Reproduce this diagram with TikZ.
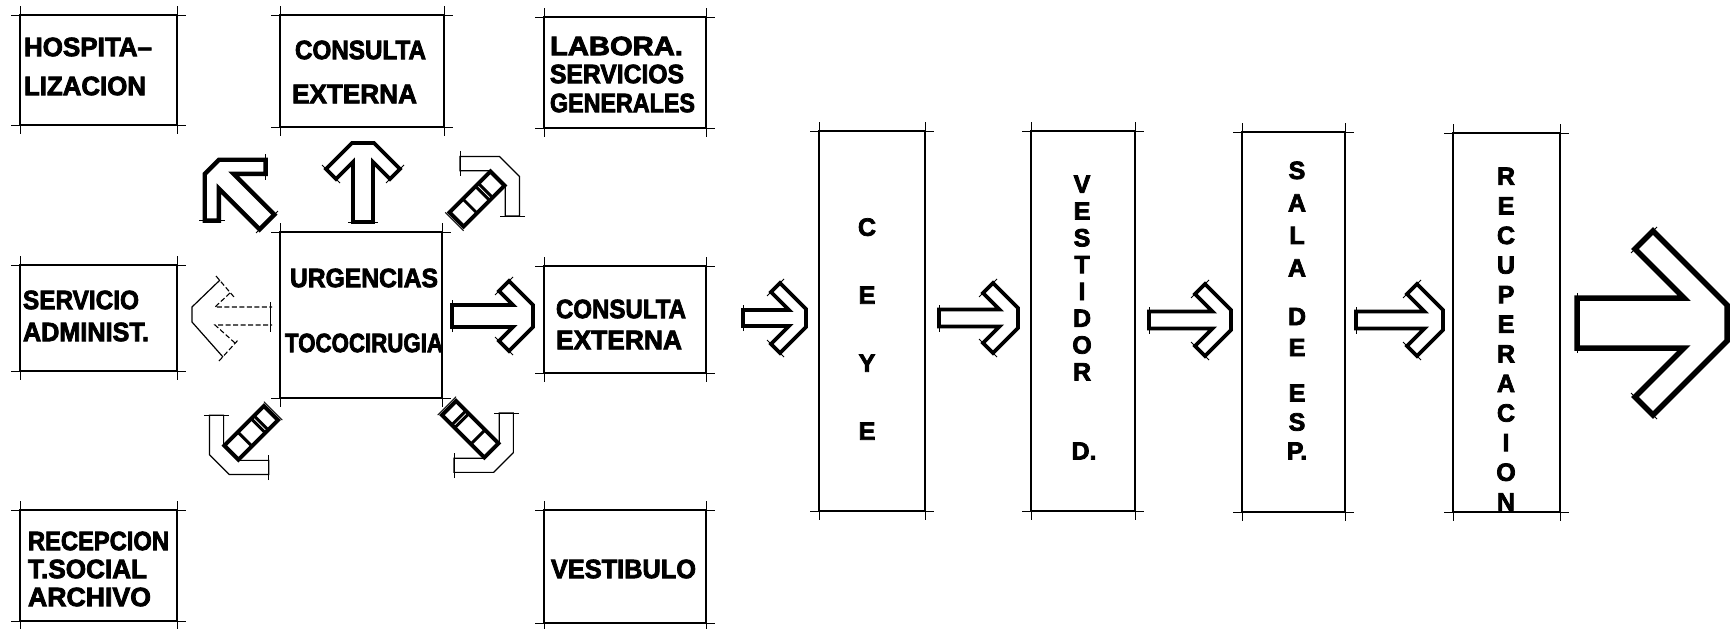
\documentclass[tikz,border=0pt]{standalone}
\usepackage{fontspec}
\setmainfont{Liberation Sans}[BoldFont={Liberation Sans Bold},BoldFeatures={FakeBold=3}]
\tikzset{
  boxn/.style={draw=black,line width=2.2pt,inner sep=0pt,outer sep=0pt,line join=miter},
  tick/.style={draw=black,line width=0.9pt},
  lab/.style={inner sep=0pt,outer sep=0pt,text=black},
  arrowline/.style={draw=black,line join=miter,miter limit=4},
  thinline/.style={draw=black,line width=1.2pt,line join=miter},
  dashline/.style={draw=black,line width=1.1pt,dash pattern=on 5pt off 2.5pt},
  vlab/.style={inner sep=0pt,outer sep=0pt,text=black,align=center},
}
% name x1 y1 x2 y2
\newcommand\bx[5]{%
  \pgfmathsetmacro\bw{#4-#2}\pgfmathsetmacro\bh{#5-#3}%
  \pgfmathsetmacro\cx{(#2+#4)/2}\pgfmathsetmacro\cy{(#3+#5)/2}%
  \node[boxn,minimum width=\bw pt,minimum height=\bh pt] (#1) at (\cx,\cy) {};
  \draw[tick] ([xshift=-9pt]#1.north west) -- ([xshift=9pt]#1.north east);
  \draw[tick] ([xshift=-9pt]#1.south west) -- ([xshift=9pt]#1.south east);
  \draw[tick] ([yshift=9pt]#1.north west) -- ([yshift=-9pt]#1.south west);
  \draw[tick] ([yshift=9pt]#1.north east) -- ([yshift=-9pt]#1.south east);
}
% name x1 x2 yc text
\newcommand\lab[5]{%
  \pgfmathsetmacro\lw{#3-#2}\pgfmathsetmacro\lx{(#2+#3)/2}%
  \node[lab] (#1) at (\lx,#4) {\resizebox{\lw pt}{18.5pt}{\bfseries #5}};
}
% name x ycentre spacing text
\newcommand\vlabel[5]{%
  \node[vlab,font=\fontsize{25}{#4}\selectfont\bfseries] (#1) at (#2,#3) {#5};
}
% x y rot L H S f w lw
\newcommand\blockarrow[9]{%
  \pgfmathsetmacro\xo{#4-(#5-#7)}\pgfmathsetmacro\xi{\xo-#8}%
  \pgfmathsetmacro\yi{#5-#8}\pgfmathsetmacro\xn{\xi+\yi-#6}%
  \begin{scope}[shift={(#1,#2)},rotate=#3]
    \draw[arrowline,line width=#9pt] (0,#6) -- (\xn,#6) -- (\xi,\yi) -- (\xo,#5) -- (#4,#7) -- (#4,-#7) -- (\xo,-#5) -- (\xi,-\yi) -- (\xn,-#6) -- (0,-#6) -- cycle;
    \draw[tick] (0,#6+5) -- (0,-#6-5);
    \draw[tick] (\xo+4,#5+4) -- (\xi-4,\yi-4);
    \draw[tick] (\xo+4,-#5-4) -- (\xi-4,-\yi+4);
  \end{scope}
}
% x y rot L H f bar1 bar2 bar3 (ladder half-width 10)
\newcommand\ladderarrow[9]{%
  \pgfmathsetmacro\xo{#4-(#5-#6)}\pgfmathsetmacro\xi{\xo-10}%
  \pgfmathsetmacro\yi{#5-10}\pgfmathsetmacro\xn{\xi+\yi-11}%
  \begin{scope}[shift={(#1,#2)},rotate=#3]
    \draw[thinline] (\xn,11) -- (\xi,\yi) -- (\xo,#5) -- (#4,#6) -- (#4,-#6) -- (\xo,-#5) -- (\xi,-\yi) -- (\xn,-11);
    \draw[tick] (\xo+4,#5+4) -- (\xi-4,\yi-4);
    \draw[tick] (\xo+4,-#5-4) -- (\xi-4,-\yi+4);
    \draw[tick] (-3,13) -- (-3,-13);
    \draw[arrowline,line width=4pt] (0,10) rectangle (\xn,-10);
    \foreach \b in {#7,#8,#9}{\draw[arrowline,line width=3pt] (\b,10) -- (\b,-10);}
  \end{scope}
}
\begin{document}
\begin{tikzpicture}[x=1pt,y=-1pt]
\useasboundingbox[fill=white] (0,0) rectangle (1730,629);

% boxes
\bx{hosp}{20}{15}{177}{125}
\bx{cons}{280}{15}{444}{127}
\bx{labo}{544}{17}{706}{128}
\bx{urge}{280}{232}{442}{398}
\bx{serv}{20}{265}{177}{371}
\bx{cext}{544}{266}{706}{373}
\bx{rece}{20}{510}{177}{621}
\bx{vest}{544}{510}{706}{623}
\bx{ceye}{819}{131}{925}{511}
\bx{vdor}{1031}{131}{1135}{511}
\bx{sala}{1242}{132}{1345}{512}
\bx{recu}{1453}{133}{1560}{512}

% box labels
\lab{t1}{24}{152}{47}{HOSPITA–}
\lab{t2}{24}{146}{86}{LIZACION}
\lab{t3}{295}{426}{50}{CONSULTA}
\lab{t4}{292}{417}{94}{EXTERNA}
\lab{t5}{550}{683}{46}{LABORA.}
\lab{t6}{550}{684}{74}{SERVICIOS}
\lab{t7}{550}{695}{103}{GENERALES}
\lab{t8}{290}{438}{278}{URGENCIAS}
\lab{t9}{285}{443}{343}{TOCOCIRUGIA}
\lab{t10}{23}{139}{300}{SERVICIO}
\lab{t11}{23}{149}{332}{ADMINIST.}
\lab{t12}{556}{686}{309}{CONSULTA}
\lab{t13}{556}{682}{340}{EXTERNA}
\lab{t14}{28}{169}{541}{RECEPCION}
\lab{t15}{28}{147}{569}{T.SOCIAL}
\lab{t16}{28}{151}{597}{ARCHIVO}
\lab{t17}{551}{696}{569}{VESTIBULO}

% vertical labels
\vlabel{v1}{867}{329}{68}{C\\E\\Y\\E}
\vlabel{v2}{1082}{278}{26.8}{V\\E\\S\\T\\I\\D\\O\\R}
\vlabel{v3}{1084}{451}{27}{D.}
\vlabel{v4}{1297}{219}{32.5}{S\\A\\L\\A}
\vlabel{v5}{1297}{332}{31}{D\\E}
\vlabel{v6}{1297}{422}{29}{E\\S\\P.}
\vlabel{v7}{1506}{339}{29.6}{R\\E\\C\\U\\P\\E\\R\\A\\C\\I\\O\\N}

% block arrows
\blockarrow{1577}{323}{0}{150}{92}{25}{18}{18}{5.5}
\blockarrow{452}{316}{0}{81}{35}{11}{11}{10}{3.8}
\blockarrow{743}{318}{0}{63}{35}{8}{9}{9}{3.8}
\blockarrow{939}{318}{0}{79}{35}{8.5}{10}{10}{3.8}
\blockarrow{1149}{320}{0}{82}{36}{8.5}{10}{10}{3.8}
\blockarrow{1356}{320}{0}{87}{36}{8.5}{10}{10}{3.8}
\blockarrow{363}{222}{90}{79}{37}{10}{11}{10}{3.8}
\blockarrow{267}{222}{135}{78}{43}{10.5}{10}{10}{4.4}

% ladder arrows
\ladderarrow{456.5}{219.5}{45}{75}{42}{14}{19}{37}{41}
\ladderarrow{449}{408}{-45}{77}{42}{14}{14}{18}{41}
\ladderarrow{271}{413}{-135}{73}{42}{14}{14}{18}{37}

% dashed arrow to the left
\draw[thinline] (220,280) -- (192,307) -- (192,322) -- (223,357);
\draw[dashline] (216,276) -- (234,297);
\draw[dashline] (219,361) -- (239,339);
\draw[dashline] (230,293) -- (215,307) -- (272,307);
\draw[dashline] (235,343) -- (215,325) -- (272,325);
\draw[tick] (270,302) -- (270,332);
\end{tikzpicture}
\end{document}
